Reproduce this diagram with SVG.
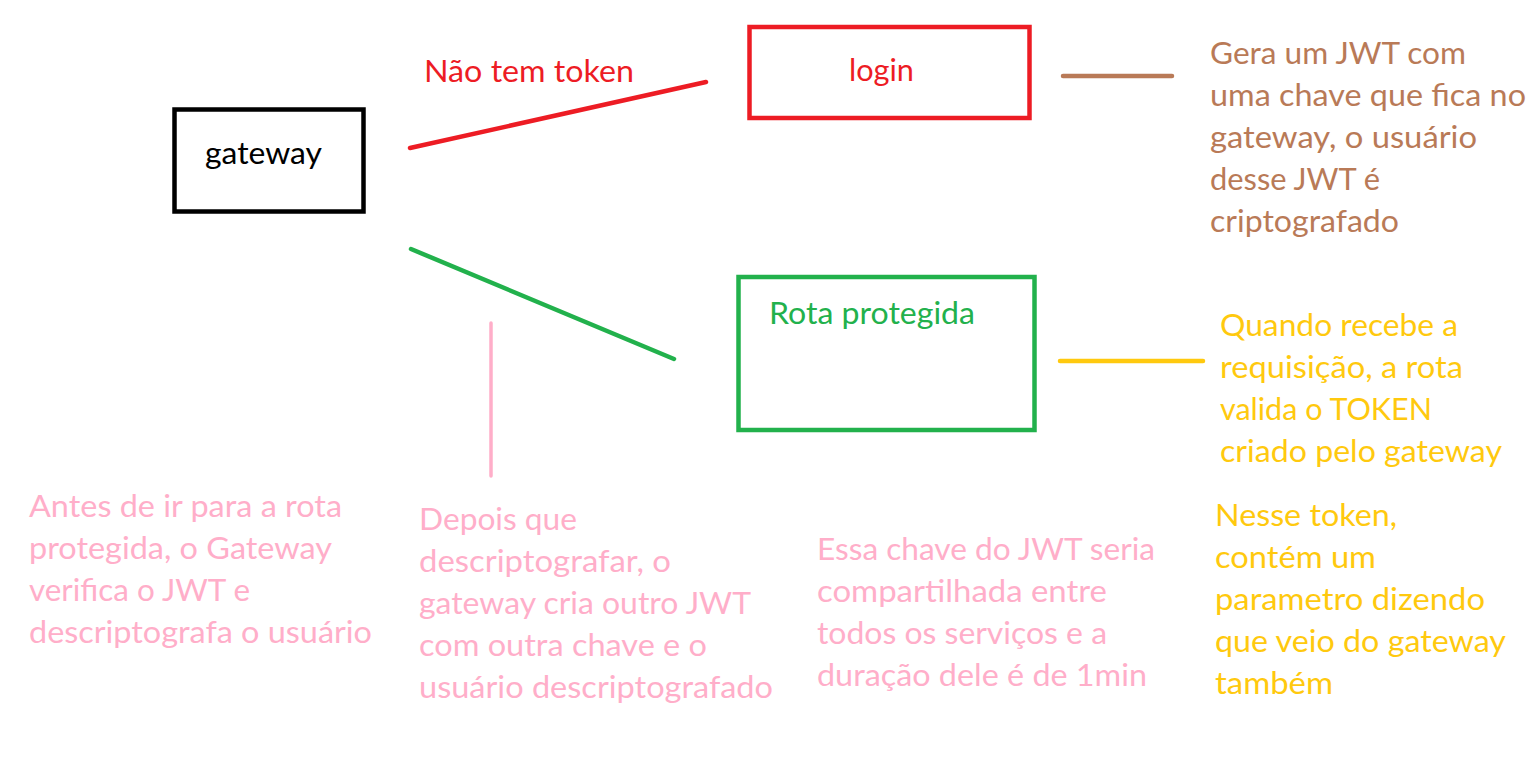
<svg xmlns="http://www.w3.org/2000/svg" width="1527" height="766" viewBox="0 0 1527 766">
<style>
text{font-family:Lato,"Open Sans","Noto Sans",sans-serif;font-size:31px}
.box{fill:#fff;stroke-width:4.5}
.ln{fill:none;stroke-linecap:round}
.pink{fill:#FFAEC9}
.yel{fill:#FFC90E}
.brn{fill:#B97A57}
</style>
<rect width="1527" height="766" fill="#fff"/>
<g id="connectors">
<line class="ln" x1="410" y1="148" x2="706" y2="82" stroke="#ED1C24" stroke-width="4.5"/>
<line class="ln" x1="411" y1="249" x2="674" y2="359" stroke="#22B14C" stroke-width="4.5"/>
<line class="ln" x1="491" y1="323" x2="491" y2="476" stroke="#FFAEC9" stroke-width="3.5"/>
<line class="ln" x1="1063" y1="76" x2="1172" y2="76" stroke="#B97A57" stroke-width="4.5"/>
<line class="ln" x1="1060" y1="361" x2="1203" y2="361" stroke="#FFC90E" stroke-width="4.5"/>
<text x="424" y="82" fill="#ED1C24" textLength="210" lengthAdjust="spacingAndGlyphs">Não tem token</text>
</g>
<g id="gateway">
<rect class="box" x="174.5" y="109.5" width="189" height="102" stroke="#000" stroke-width="5"/>
<text x="205" y="164" fill="#000" textLength="117" lengthAdjust="spacingAndGlyphs">gateway</text>
</g>
<g id="login">
<rect class="box" x="749.5" y="27" width="280" height="91" stroke="#ED1C24"/>
<text x="849" y="81" fill="#ED1C24" textLength="65" lengthAdjust="spacingAndGlyphs">login</text>
</g>
<g id="rota">
<rect class="box" x="738.5" y="277" width="296" height="153" stroke="#22B14C"/>
<text x="769" y="324" fill="#22B14C" textLength="206" lengthAdjust="spacingAndGlyphs">Rota protegida</text>
</g>
<g id="note-login" class="brn">
<text x="1210" y="64" textLength="256" lengthAdjust="spacingAndGlyphs">Gera um JWT com</text>
<text x="1210" y="106" textLength="316" lengthAdjust="spacingAndGlyphs">uma chave que fica no</text>
<text x="1210" y="148" textLength="267" lengthAdjust="spacingAndGlyphs">gateway, o usuário</text>
<text x="1210" y="190" textLength="170" lengthAdjust="spacingAndGlyphs">desse JWT é</text>
<text x="1210" y="232" textLength="189" lengthAdjust="spacingAndGlyphs">criptografado</text>
</g>
<g id="note-rota" class="yel">
<text x="1220" y="336" textLength="238" lengthAdjust="spacingAndGlyphs">Quando recebe a</text>
<text x="1220" y="378" textLength="243" lengthAdjust="spacingAndGlyphs">requisição, a rota</text>
<text x="1220" y="420" textLength="212" lengthAdjust="spacingAndGlyphs">valida o TOKEN</text>
<text x="1220" y="462" textLength="282" lengthAdjust="spacingAndGlyphs">criado pelo gateway</text>
</g>
<g id="note-antes" class="pink">
<text x="29" y="517" textLength="313" lengthAdjust="spacingAndGlyphs">Antes de ir para a rota</text>
<text x="29" y="559" textLength="303" lengthAdjust="spacingAndGlyphs">protegida, o Gateway</text>
<text x="29" y="601" textLength="221" lengthAdjust="spacingAndGlyphs">verifica o JWT e</text>
<text x="29" y="643" textLength="343" lengthAdjust="spacingAndGlyphs">descriptografa o usuário</text>
</g>
<g id="note-depois" class="pink">
<text x="419" y="530" textLength="158" lengthAdjust="spacingAndGlyphs">Depois que</text>
<text x="419" y="572" textLength="252" lengthAdjust="spacingAndGlyphs">descriptografar, o</text>
<text x="419" y="614" textLength="332" lengthAdjust="spacingAndGlyphs">gateway cria outro JWT</text>
<text x="419" y="656" textLength="288" lengthAdjust="spacingAndGlyphs">com outra chave e o</text>
<text x="419" y="698" textLength="354" lengthAdjust="spacingAndGlyphs">usuário descriptografado</text>
</g>
<g id="note-chave" class="pink">
<text x="817" y="560" textLength="338" lengthAdjust="spacingAndGlyphs">Essa chave do JWT seria</text>
<text x="817" y="602" textLength="290" lengthAdjust="spacingAndGlyphs">compartilhada entre</text>
<text x="817" y="644" textLength="290" lengthAdjust="spacingAndGlyphs">todos os serviços e a</text>
<text x="817" y="686" textLength="330" lengthAdjust="spacingAndGlyphs">duração dele é de 1min</text>
</g>
<g id="note-token" class="yel">
<text x="1215" y="526" textLength="182" lengthAdjust="spacingAndGlyphs">Nesse token,</text>
<text x="1215" y="568" textLength="161" lengthAdjust="spacingAndGlyphs">contém um</text>
<text x="1215" y="610" textLength="270" lengthAdjust="spacingAndGlyphs">parametro dizendo</text>
<text x="1215" y="652" textLength="291" lengthAdjust="spacingAndGlyphs">que veio do gateway</text>
<text x="1215" y="694" textLength="118" lengthAdjust="spacingAndGlyphs">também</text>
</g>
</svg>
